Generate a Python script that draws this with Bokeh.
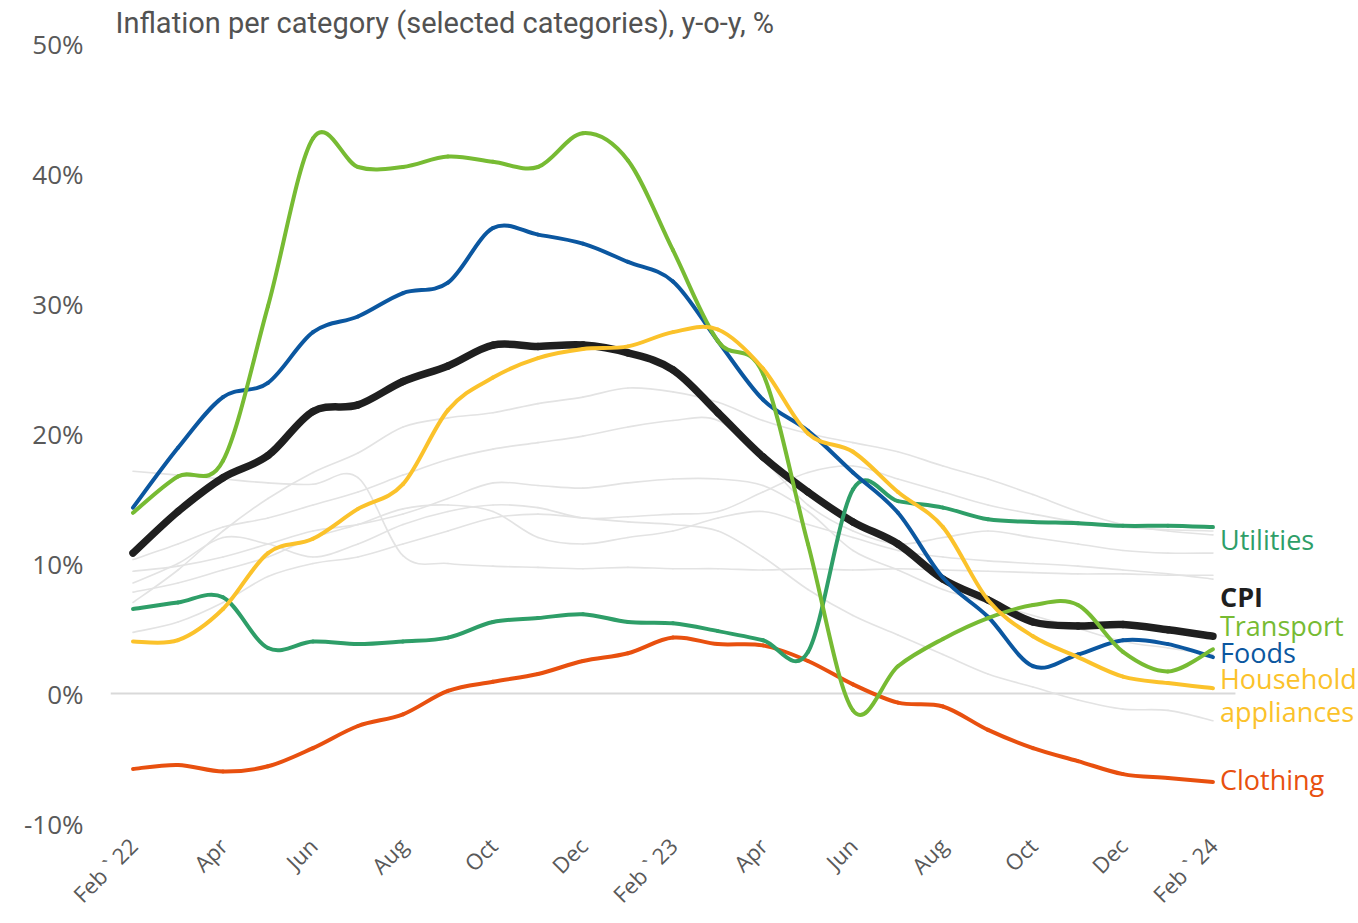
import math
from bokeh.plotting import figure
from bokeh.models import FixedTicker, PrintfTickFormatter, ColumnDataSource, Range1d
from bokeh.core.properties import value
from bokeh.embed import file_html
from bokeh.resources import INLINE

# ---------------- data ----------------
months = ["Feb 22", "Mar 22", "Apr 22", "May 22", "Jun 22", "Jul 22", "Aug 22", "Sep 22",
          "Oct 22", "Nov 22", "Dec 22", "Jan 23", "Feb 23", "Mar 23", "Apr 23", "May 23",
          "Jun 23", "Jul 23", "Aug 23", "Sep 23", "Oct 23", "Nov 23", "Dec 23", "Jan 24", "Feb 24"]
tick_labels = ["Feb ` 22", "Apr", "Jun", "Aug", "Oct", "Dec", "Feb ` 23",
               "Apr", "Jun", "Aug", "Oct", "Dec", "Feb ` 24"]

cpi = [10.8, 14.0, 16.6, 18.3, 21.7, 22.2, 24.0, 25.2, 26.8, 26.7, 26.8, 26.2, 24.9,
       21.6, 18.2, 15.5, 13.2, 11.5, 8.8, 7.2, 5.5, 5.2, 5.3, 4.9, 4.4]
transport = [13.9, 16.7, 17.9, 29.8, 42.7, 40.5, 40.5, 41.3, 40.9, 40.5, 43.1, 41.0, 34.1,
             27.1, 24.6, 11.5, -1.3, 2.1, 4.2, 5.8, 6.8, 6.8, 3.2, 1.7, 3.4]
foods = [14.3, 18.9, 22.8, 23.9, 27.8, 29.0, 30.8, 31.6, 35.8, 35.3, 34.6, 33.2, 31.7,
         27.1, 22.6, 20.2, 17.0, 13.9, 8.9, 5.9, 2.1, 3.0, 4.1, 3.8, 2.8]
household = [4.0, 4.1, 6.5, 10.8, 11.9, 14.2, 16.1, 21.8, 24.3, 25.8, 26.5, 26.7, 27.8,
             28.0, 25.0, 20.0, 18.6, 15.5, 12.8, 7.2, 4.4, 2.8, 1.3, 0.8, 0.4]
utilities = [6.5, 7.0, 7.4, 3.5, 4.0, 3.8, 4.0, 4.3, 5.5, 5.8, 6.1, 5.5, 5.4,
             4.8, 4.1, 3.2, 15.7, 14.8, 14.3, 13.4, 13.2, 13.1, 12.9, 12.9, 12.8]
clothing = [-5.8, -5.5, -6.0, -5.6, -4.2, -2.5, -1.6, 0.2, 0.9, 1.5, 2.5, 3.1, 4.3,
            3.8, 3.7, 2.5, 0.7, -0.7, -1.0, -2.8, -4.2, -5.2, -6.2, -6.5, -6.8]

# other (unlabelled) categories, shown in light grey
other_1 = [17.1, 16.8, 16.5, 16.2, 16.1, 16.6, 10.6, 10.0, 9.8, 9.7, 9.6, 9.7, 9.6,
           9.6, 9.5, 9.6, 9.5, 9.6, 9.5, 9.4, 9.3, 9.2, 9.2, 9.1, 9.1]
other_2 = [7.0, 9.5, 12.5, 15.0, 17.0, 18.5, 20.5, 21.2, 21.6, 22.3, 22.8, 23.5, 23.2,
           22.4, 21.0, 20.0, 19.3, 18.6, 17.5, 16.5, 15.3, 14.0, 13.0, 12.5, 12.2]
other_3 = [10.3, 11.5, 12.8, 13.5, 14.5, 15.5, 16.8, 18.0, 18.8, 19.3, 19.8, 20.5, 21.0,
           21.0, 18.0, 14.5, 12.5, 11.5, 12.0, 12.5, 12.0, 11.5, 11.0, 10.8, 10.8]
other_4 = [9.4, 9.8, 10.5, 11.5, 12.5, 13.0, 13.8, 15.0, 16.2, 16.0, 15.8, 16.2, 16.5,
           16.5, 16.0, 14.0, 11.0, 9.5, 8.0, 7.0, 6.0, 5.0, 4.0, 3.5, 3.0]
other_5 = [8.5, 10.0, 12.0, 11.5, 10.5, 11.5, 13.0, 14.0, 14.5, 14.3, 13.5, 13.6, 13.8,
           14.0, 15.5, 17.0, 17.5, 16.5, 15.5, 14.5, 13.8, 13.2, 12.8, 12.6, 12.5]
other_6 = [4.7, 5.5, 7.0, 9.0, 10.0, 10.5, 11.5, 12.5, 13.5, 13.8, 13.5, 13.2, 13.0,
           12.5, 10.5, 8.0, 6.0, 4.5, 3.0, 1.5, 0.5, -0.5, -1.2, -1.3, -2.1]
other_7 = [7.8, 8.5, 9.5, 10.5, 12.0, 13.0, 14.2, 14.5, 14.0, 12.0, 11.5, 12.0, 12.5,
           13.5, 14.0, 13.0, 12.0, 11.0, 10.5, 10.2, 10.0, 9.8, 9.5, 9.2, 8.8]
others = [other_1, other_2, other_3, other_4, other_5, other_6, other_7]

# labels at the right end: (text, colour, label level in %, bold)
label_text = ["Utilities", "CPI", "Transport", "Foods", "Household", "appliances", "Clothing"]
label_color = ["#2e9e68", "#1f1f1f", "#77bb33", "#0b57a0", "#fbc22b", "#fbc22b", "#e8500f"]
label_level = [11.85, 7.45, 5.2, 3.15, 1.15, -1.4, -6.6]
label_bold = [False, True, False, False, False, False, False]

title_text = "Inflation per category (selected categories), y-o-y, %"

# ---------------- helpers ----------------
def bezier_source(ys):
    xs = list(range(len(ys)))
    n = len(ys)
    d = dict(x0=[], y0=[], x1=[], y1=[], cx0=[], cy0=[], cx1=[], cy1=[])
    for i in range(n - 1):
        a = i - 1 if i > 0 else i
        b = i + 2 if i + 2 < n else i + 1
        d["x0"].append(xs[i]); d["y0"].append(ys[i])
        d["x1"].append(xs[i + 1]); d["y1"].append(ys[i + 1])
        d["cx0"].append(xs[i] + (xs[i + 1] - xs[a]) / 6.0)
        d["cy0"].append(ys[i] + (ys[i + 1] - ys[a]) / 6.0)
        d["cx1"].append(xs[i + 1] - (xs[b] - xs[i]) / 6.0)
        d["cy1"].append(ys[i + 1] - (ys[b] - ys[i]) / 6.0)
    return ColumnDataSource(d)

def draw(p, ys, color, width):
    p.bezier(x0="x0", y0="y0", x1="x1", y1="y1", cx0="cx0", cy0="cy0", cx1="cx1", cy1="cy1",
             source=bezier_source(ys), line_color=color, line_width=width, line_cap="round")

# ---------------- figure ----------------
n = len(months)
p = figure(width=1357, height=922, output_backend="svg", toolbar_location=None,
           x_range=Range1d(-0.5, 27.19), y_range=Range1d(-10, 50),
           min_border_left=110, min_border_right=1, min_border_top=43, min_border_bottom=99)
p.outline_line_color = None
p.xgrid.visible = False
p.ygrid.visible = False
p.background_fill_color = "white"

p.title.text = title_text
p.title.text_font = "Roboto"
p.title.text_font_size = "29px"
p.title.text_font_style = "normal"
p.title.text_color = "#525252"
p.title.align = "left"
p.title.offset = 5
p.title.standoff = 7

# y axis
p.yaxis.ticker = FixedTicker(ticks=[-10, 0, 10, 20, 30, 40, 50])
p.yaxis.formatter = PrintfTickFormatter(format="%d%%")
p.yaxis.axis_line_color = None
p.yaxis.major_tick_line_color = None
p.yaxis.minor_tick_line_color = None
p.yaxis.major_label_standoff = 21
p.yaxis.major_label_text_font = "Open Sans"
p.yaxis.major_label_text_font_size = "26px"
p.yaxis.major_label_text_color = "#595959"

# x axis
tick_pos = list(range(0, n, 2))
p.xaxis.ticker = FixedTicker(ticks=tick_pos)
p.xaxis.major_label_overrides = {t: lab for t, lab in zip(tick_pos, tick_labels)}
p.xaxis.major_label_orientation = math.pi / 4
p.xaxis.axis_line_color = None
p.xaxis.major_tick_line_color = None
p.xaxis.minor_tick_line_color = None
p.xaxis.major_label_standoff = 12
p.xaxis.major_label_text_font = "Open Sans"
p.xaxis.major_label_text_font_size = "22px"
p.xaxis.major_label_text_color = "#595959"

# zero line over the category span
p.segment(x0=[-0.5], x1=[n - 0.5], y0=[0], y1=[0], line_color="#d9d9d9", line_width=2)

for o in others:
    draw(p, o, "#e3e3e3", 1.6)

draw(p, cpi, "#1f1f1f", 7.5)
draw(p, clothing, "#e8500f", 4)
draw(p, utilities, "#2e9e68", 4)
draw(p, foods, "#0b57a0", 4)
draw(p, transport, "#77bb33", 4)
draw(p, household, "#fbc22b", 4)

for t, c, lv, b in zip(label_text, label_color, label_level, label_bold):
    p.text(x=[n - 1], y=[lv], text=[t], text_color=c, text_font=value("Open Sans"),
           text_font_size="27px", text_font_style="bold" if b else "normal",
           text_baseline="middle", text_align="left", x_offset=7)

open("out.html", "w").write(file_html(p, INLINE))
